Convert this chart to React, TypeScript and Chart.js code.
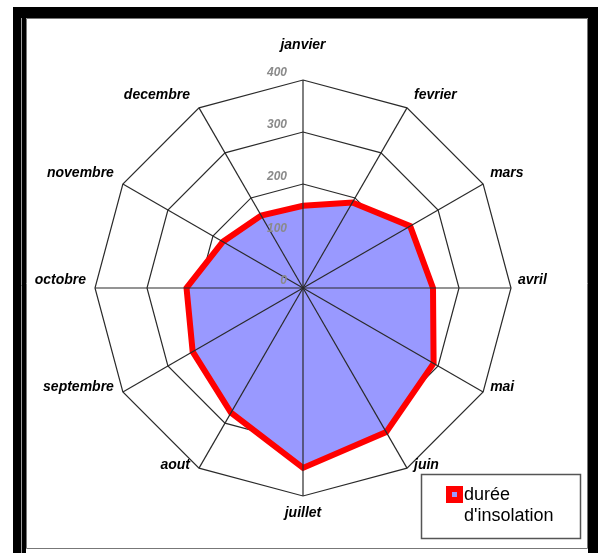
import React, { useEffect, useRef } from "react";
import { Chart, registerables } from "chart.js";

Chart.register(...registerables);

const months = [
  "janvier", "fevrier", "mars", "avril", "mai", "juin",
  "juillet", "aout", "septembre", "octobre", "novembre", "decembre",
];
const insolation = [158, 190, 238, 250, 290, 320, 346, 277, 245, 224, 178, 161];
const tickValues = [0, 100, 200, 300, 400];
const legendLines = ["durée", "d'insolation"];

const W = 598;
const H = 553;
const LABEL_FONT = "italic bold 14px 'Liberation Sans', Arial, sans-serif";
const TICK_FONT = "italic bold 12px 'Liberation Sans', Arial, sans-serif";
const LEGEND_FONT = "18px 'Liberation Sans', Arial, sans-serif";
const LINE_COLOR = "#2a2a2a";

const framePlugin = {
  id: "frame",
  beforeDraw(chart: any) {
    const ctx = chart.ctx;
    ctx.save();
    ctx.fillStyle = "#ffffff";
    ctx.fillRect(0, 0, W, H);
    ctx.fillStyle = "#000000";
    ctx.fillRect(13, 7, 585, 11); // top
    ctx.fillRect(13, 7, 13, H - 7); // left
    ctx.fillRect(588, 7, 10, H - 7); // right
    ctx.strokeStyle = "#9a9a9a";
    ctx.lineWidth = 1;
    ctx.beginPath();
    ctx.moveTo(21.5, 18);
    ctx.lineTo(21.5, H);
    ctx.stroke();
    ctx.strokeStyle = "#777";
    ctx.beginPath();
    ctx.moveTo(26.5, 18.5);
    ctx.lineTo(587.5, 18.5);
    ctx.lineTo(587.5, 548.5);
    ctx.lineTo(26.5, 548.5);
    ctx.closePath();
    ctx.stroke();
    ctx.restore();
  },
};

const overlayPlugin = {
  id: "overlay",
  afterDatasetsDraw(chart: any) {
    const ctx = chart.ctx;
    const scale = chart.scales.r;
    const cx = scale.xCenter;
    const cy = scale.yCenter;
    ctx.save();
    // angle lines on top of the fill
    ctx.strokeStyle = LINE_COLOR;
    ctx.lineWidth = 1.2;
    for (let i = 0; i < months.length; i++) {
      const p = scale.getPointPosition(i, scale.drawingArea);
      ctx.beginPath();
      ctx.moveTo(cx, cy);
      ctx.lineTo(p.x, p.y);
      ctx.stroke();
    }
    // tick labels
    ctx.font = TICK_FONT;
    ctx.fillStyle = "#8a8a8a";
    ctx.textAlign = "right";
    ctx.textBaseline = "middle";
    tickValues.forEach((v) => {
      const d = scale.getDistanceFromCenterForValue(v);
      ctx.fillText(String(v), cx - 16, cy - d - 7);
    });
    // point labels
    ctx.font = LABEL_FONT;
    ctx.fillStyle = "#000";
    const n = months.length;
    for (let i = 0; i < n; i++) {
      const p = scale.getPointPosition(i, scale.drawingArea);
      const ang = (i / n) * Math.PI * 2;
      if (i === 0) {
        ctx.textAlign = "center";
        ctx.textBaseline = "middle";
        ctx.fillText(months[i], p.x, p.y - 35);
      } else if (i === n / 2) {
        ctx.textAlign = "center";
        ctx.textBaseline = "middle";
        ctx.fillText(months[i], p.x, p.y + 17);
      } else {
        const right = i < n / 2;
        ctx.textAlign = right ? "left" : "right";
        ctx.textBaseline = "middle";
        const dy = -8 - 6 * Math.cos(ang);
        ctx.fillText(months[i], p.x + (right ? 7 : -9), p.y + dy);
      }
    }
    ctx.restore();
  },
  afterDraw(chart: any) {
    const ctx = chart.ctx;
    ctx.save();
    // legend box
    ctx.strokeStyle = "#555";
    ctx.lineWidth = 1.5;
    ctx.strokeRect(421.5, 474.5, 159, 64);
    ctx.fillStyle = "#ff0000";
    ctx.fillRect(446, 486, 17, 17);
    ctx.fillStyle = "#9999ff";
    ctx.fillRect(452, 492, 5, 5);
    ctx.font = LEGEND_FONT;
    ctx.fillStyle = "#000";
    ctx.textAlign = "left";
    ctx.textBaseline = "middle";
    ctx.fillText(legendLines[0], 464, 495);
    ctx.fillText(legendLines[1], 464, 516);
    ctx.restore();
  },
};

export default function App() {
  const ref = useRef<HTMLCanvasElement | null>(null);
  useEffect(() => {
    if (!ref.current) return;
    const chart = new Chart(ref.current, {
      type: "radar",
      data: {
        labels: months,
        datasets: [
          {
            label: "durée d'insolation",
            data: insolation,
            backgroundColor: "#9999ff",
            borderColor: "#ff0000",
            borderWidth: 6,
            borderJoinStyle: "miter",
            pointRadius: 0,
            fill: true,
            tension: 0,
          },
        ],
      },
      options: {
        responsive: false,
        animation: false,
        devicePixelRatio: 1,
        layout: { padding: { left: 95, top: 80, right: 87, bottom: 57 } },
        plugins: { legend: { display: false }, tooltip: { enabled: false } },
        scales: {
          r: {
            min: 0,
            max: 400,
            ticks: { display: false, stepSize: 100 },
            pointLabels: { display: false },
            angleLines: { display: false },
            grid: { color: LINE_COLOR, lineWidth: 1.2, circular: false },
          },
        },
      },
      plugins: [framePlugin, overlayPlugin],
    } as any);
    return () => chart.destroy();
  }, []);
  return (
    <div style={{ position: "fixed", left: 0, top: 0, width: W, height: H }}>
      <canvas ref={ref} width={W} height={H} style={{ display: "block" }} />
    </div>
  );
}
